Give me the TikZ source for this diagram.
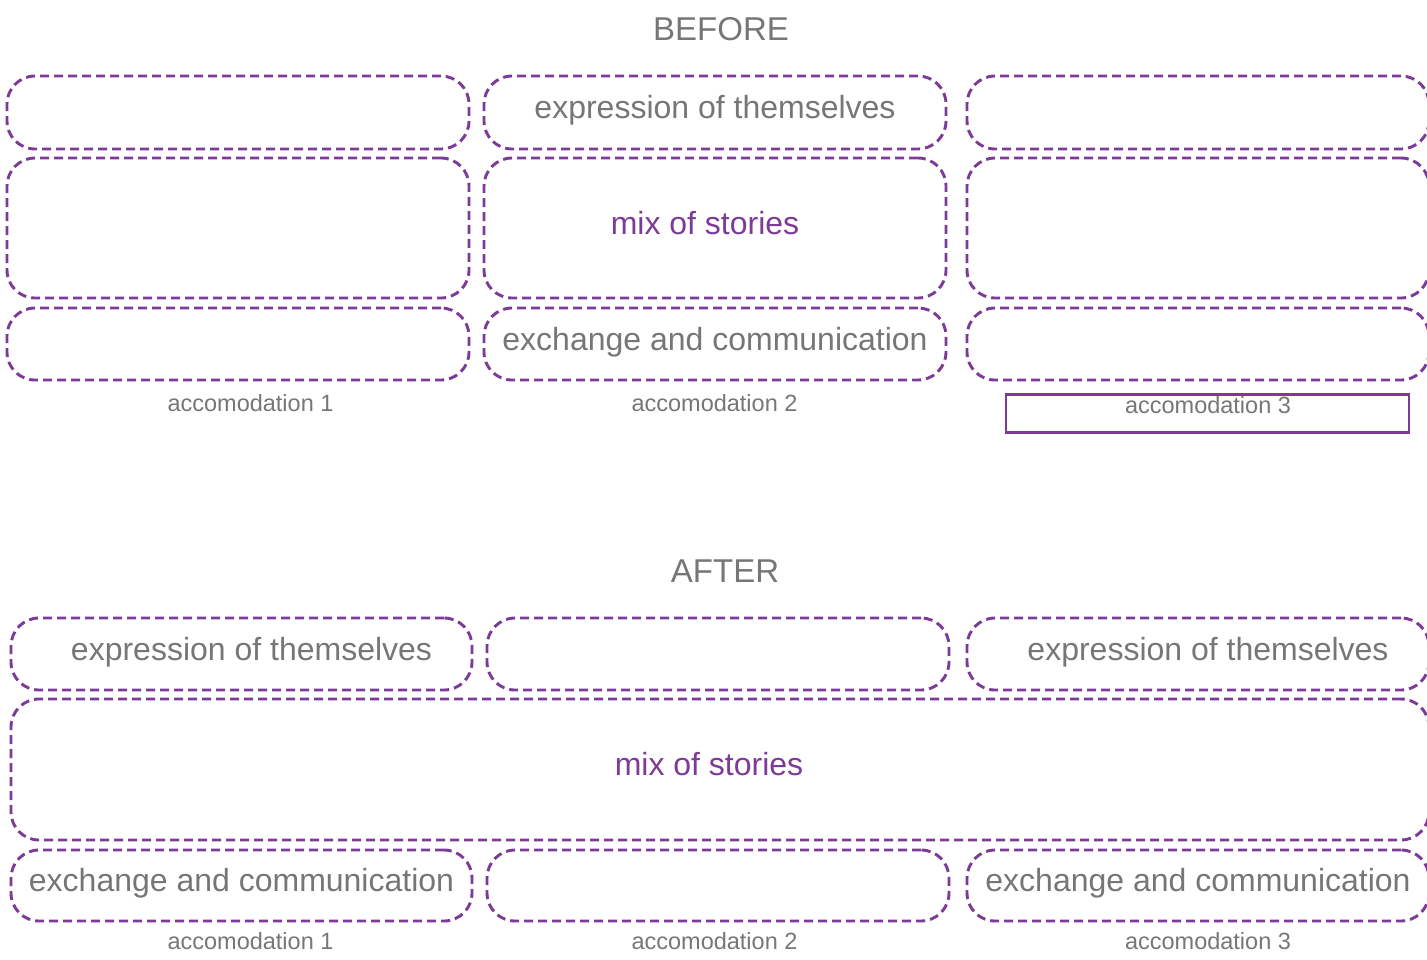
\documentclass[tikz,border=0pt]{standalone}
\usepackage{fontspec}
\setmainfont{Liberation Sans}
\usetikzlibrary{positioning}
\definecolor{plum}{RGB}{125,58,152}
\definecolor{ink}{RGB}{118,118,118}
\tikzstyle{every node}=[font=\fontsize{32}{36}\selectfont, text=ink, inner sep=0pt]
\tikzstyle{slot} = [rectangle, rounded corners=28pt, draw=plum, line width=2.9pt, dash pattern=on 9pt off 5pt, minimum width=462pt, text height=21pt, text depth=9pt]
\tikzstyle{words} = [text height=21pt, text depth=9pt]
\tikzstyle{story} = [words, text=plum]
\tikzstyle{title} = [anchor=base, font=\fontsize{33}{36}\selectfont]
\tikzstyle{caption} = [anchor=base, font=\fontsize{23.5}{26}\selectfont]
\tikzstyle{pick} = [rectangle, draw=plum, line width=2.4pt, minimum width=403pt, minimum height=38pt]

\begin{document}
\begin{tikzpicture}[x=1pt, y=-1pt]
            \useasboundingbox (0,0) rectangle (1427,959);
            \clip (0,0) rectangle (1427,959);
            % before
            \node (before) [title] at (721,40) {BEFORE};
            \node (b11) [slot, minimum height=73pt] at (238,112.5) {};
            \node (b12) [slot, minimum height=73pt] at (715,112.5) {expression of themselves};
            \node (b13) [slot, minimum height=73pt] at (1198,112.5) {};
            \node (b21) [slot, minimum height=140pt] at (238,228) {};
            \node (b22) [slot, minimum height=140pt] at (715,228) {};
            \node (b23) [slot, minimum height=140pt] at (1198,228) {};
            \node (m1) [story, xshift=-10pt] at (b22) {mix of stories};
            \node (b31) [slot, minimum height=72pt] at (238,344) {};
            \node (b32) [slot, minimum height=72pt] at (715,344) {exchange and communication};
            \node (b33) [slot, minimum height=72pt] at (1198,344) {};
            \node (bl1) [caption] at (250.5,411) {accomodation 1};
            \node (bl2) [caption] at (714.5,411) {accomodation 2};
            \node (bl3) [caption] at (1208,413) {accomodation 3};
            \node (sel) [pick] at (1207.5,413.3) {};
            % after
            \node (after) [title] at (725,582) {AFTER};
            \node (a11) [slot, minimum width=461pt, minimum height=72pt] at (241.5,654) {};
            \node (a12) [slot, minimum height=72pt] at (718,654) {};
            \node (a13) [slot, minimum height=72pt] at (1198,654) {};
            \node (e1) [words, xshift=10pt] at (a11) {expression of themselves};
            \node (e3) [words, xshift=10pt] at (a13) {expression of themselves};
            \node (a2) [slot, minimum width=1418pt, minimum height=141pt] at (720,769.5) {};
            \node (m2) [story, xshift=-11pt] at (a2) {mix of stories};
            \node (a31) [slot, minimum width=461pt, minimum height=71pt] at (241.5,885.5) {exchange and communication};
            \node (a32) [slot, minimum height=71pt] at (718,885.5) {};
            \node (a33) [slot, minimum height=71pt] at (1198,885.5) {exchange and communication};
            \node (al1) [caption] at (250.5,949) {accomodation 1};
            \node (al2) [caption] at (714.5,949) {accomodation 2};
            \node (al3) [caption] at (1208,949) {accomodation 3};
          \end{tikzpicture}
\end{document}
